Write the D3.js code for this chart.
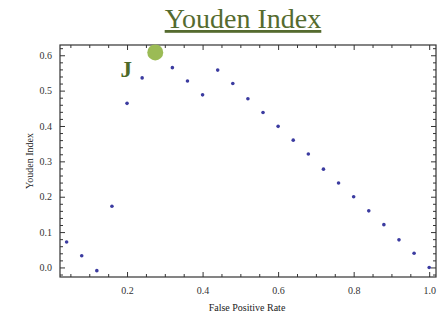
<!DOCTYPE html>
<html>
<head>
<meta charset="utf-8">
<script src="https://cdn.jsdelivr.net/npm/d3@7"></script>
<style>
  body { margin: 0; background: #fff; }
  text { font-family: "Liberation Serif", "DejaVu Serif", serif; }
</style>
</head>
<body>
<div id="chart"></div>
<script>
// Frame dimensions
let FRAME_WIDTH = 442;
let FRAME_HEIGHT = 317;
let MARGINS = {left: 60, right: 6, top: 45, bottom: 40};

// chart data
const FPR = [0.04, 0.08, 0.12, 0.16, 0.20, 0.24, 0.28, 0.32, 0.36, 0.40, 0.44, 0.48, 0.52,
             0.56, 0.60, 0.64, 0.68, 0.72, 0.76, 0.80, 0.84, 0.88, 0.92, 0.96, 1.00];
const YOUDEN = [0.072, 0.033, -0.009, 0.173, 0.464, 0.536, 0.608, 0.565, 0.527, 0.488, 0.558, 0.520, 0.477,
                0.438, 0.399, 0.360, 0.321, 0.278, 0.239, 0.200, 0.160, 0.121, 0.078, 0.040, 0.000];
const X_TICKS = [0.2, 0.4, 0.6, 0.8, 1.0];
const Y_TICKS = [0.0, 0.1, 0.2, 0.3, 0.4, 0.5, 0.6];
const BEST = {fpr: 0.28, j: 0.608, label: "J"};

let WIDTH = FRAME_WIDTH - MARGINS.left - MARGINS.right;
let HEIGHT = FRAME_HEIGHT - MARGINS.top - MARGINS.bottom;

let svg = d3.select("#chart")
            .append("svg")
            .attr("width", FRAME_WIDTH)
            .attr("height", FRAME_HEIGHT);

const X_SCALE = d3.scaleLinear().domain([0.0225, 1.018]).range([0, WIDTH]);
const Y_SCALE = d3.scaleLinear().domain([-0.027, 0.629]).range([HEIGHT, 0]);

let plot = svg.append("g")
              .attr("transform", "translate(" + MARGINS.left + "," + MARGINS.top + ")");

// minor ticks
const X_MINOR = d3.range(0.05, 1.01, 0.05).filter(v => X_TICKS.every(t => Math.abs(t - v) > 1e-6));
const Y_MINOR = d3.range(-0.02, 0.63, 0.02).filter(v => Y_TICKS.every(t => Math.abs(t - v) > 1e-6));

function frameAxis(axis, ticks, size) {
  return axis.tickValues(ticks).tickSizeInner(size).tickSizeOuter(0).tickFormat("");
}

// bottom
plot.append("g").attr("transform", "translate(0," + HEIGHT + ")")
    .call(frameAxis(d3.axisTop(X_SCALE), X_MINOR, 3));
plot.append("g").attr("transform", "translate(0," + HEIGHT + ")")
    .call(frameAxis(d3.axisTop(X_SCALE), X_TICKS, 5));
plot.append("g").attr("class", "lab").attr("transform", "translate(0," + HEIGHT + ")")
    .call(d3.axisBottom(X_SCALE).tickValues(X_TICKS).tickSize(0).tickPadding(10).tickFormat(d3.format(".1f")));
// top
plot.append("g").call(frameAxis(d3.axisBottom(X_SCALE), X_MINOR, 3));
plot.append("g").call(frameAxis(d3.axisBottom(X_SCALE), X_TICKS, 5));
// left
plot.append("g").call(frameAxis(d3.axisRight(Y_SCALE), Y_MINOR, 3));
plot.append("g").call(frameAxis(d3.axisRight(Y_SCALE), Y_TICKS, 5));
plot.append("g").attr("class", "lab")
    .call(d3.axisLeft(Y_SCALE).tickValues(Y_TICKS).tickSize(0).tickPadding(8).tickFormat(d3.format(".1f")));
// right
plot.append("g").attr("transform", "translate(" + WIDTH + ",0)")
    .call(frameAxis(d3.axisLeft(Y_SCALE), Y_MINOR, 3));
plot.append("g").attr("transform", "translate(" + WIDTH + ",0)")
    .call(frameAxis(d3.axisLeft(Y_SCALE), Y_TICKS, 5));

plot.selectAll(".domain").remove();
plot.selectAll(".tick line").attr("stroke", "#333");
plot.selectAll(".lab text").attr("font-size", "10px").attr("fill", "#333");

// frame box
plot.append("rect")
    .attr("width", WIDTH).attr("height", HEIGHT)
    .attr("fill", "none").attr("stroke", "#333").attr("stroke-width", 1.2);

// points
plot.selectAll("circle.pt")
    .data(FPR.map((x, i) => ({x: x, y: YOUDEN[i]})))
    .enter()
    .append("circle")
      .attr("class", "pt")
      .attr("cx", d => X_SCALE(d.x))
      .attr("cy", d => Y_SCALE(d.y))
      .attr("r", 1.8)
      .attr("fill", "#3b3ba0");

// best point
plot.append("circle")
    .attr("cx", X_SCALE(BEST.fpr) - 2)
    .attr("cy", Y_SCALE(BEST.j))
    .attr("r", 8)
    .attr("fill", "#9bbb55");

plot.append("text")
    .attr("x", X_SCALE(BEST.fpr) - 31)
    .attr("y", Y_SCALE(BEST.j) + 25)
    .attr("text-anchor", "middle")
    .attr("font-size", "23px")
    .attr("font-weight", "bold")
    .attr("fill", "#4e6a28")
    .text(BEST.label);

// title
svg.append("text")
   .attr("x", 243).attr("y", 28)
   .attr("text-anchor", "middle")
   .attr("font-size", "28px")
   .attr("fill", "#556b2f")
   .attr("text-decoration", "underline")
   .text("Youden Index");

// axis labels
svg.append("text")
   .attr("x", 247).attr("y", 311)
   .attr("text-anchor", "middle")
   .attr("font-size", "10px")
   .attr("fill", "#222")
   .text("False Positive Rate");

svg.append("text")
   .attr("transform", "translate(33," + (MARGINS.top + HEIGHT / 2) + ") rotate(-90)")
   .attr("text-anchor", "middle")
   .attr("font-size", "10px")
   .attr("fill", "#222")
   .text("Youden Index");
</script>
</body>
</html>
